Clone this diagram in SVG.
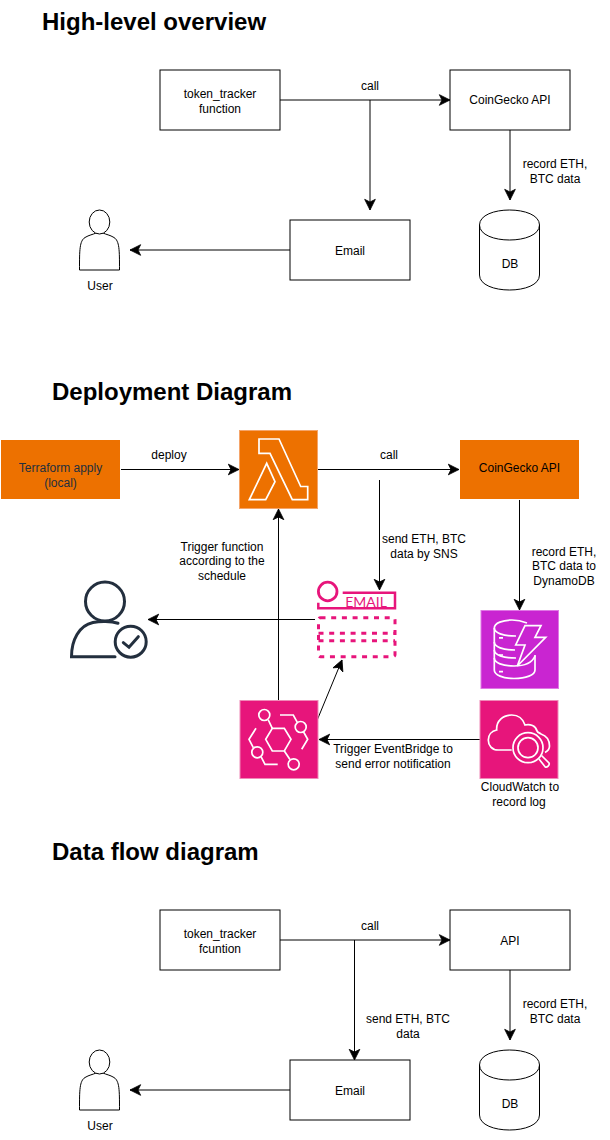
<svg xmlns="http://www.w3.org/2000/svg" width="610" height="1140" viewBox="0 0 610 1140">
<style>
text{font-family:"Liberation Sans",Arial,sans-serif;font-size:12px;fill:#000;text-anchor:middle}
.title{font-size:24px;font-weight:bold;text-anchor:start}
.box{fill:#fff;stroke:#000;stroke-width:1}
.orange{fill:#ed7100}
.edge{fill:none;stroke:#000;stroke-width:1;marker-end:url(#arrow)}
.plain{fill:none;stroke:#000;stroke-width:1}
.ic{fill:none;stroke:#fff;stroke-width:1.700;stroke-linejoin:miter}
.tile{stroke-width:1}
</style>
<defs>
<marker id="arrow" markerUnits="userSpaceOnUse" markerWidth="12" markerHeight="12" refX="8" refY="4.500" orient="auto" viewBox="0 0 9 9" overflow="visible">
<path d="M0,0.500 L8,4.500 L0,8.500 L2,4.500 Z" fill="#000" stroke="#000" stroke-width="0.600"/>
</marker>
<g id="userShape">
<path class="box" d="M79.500,270 C79.500,250 79.500,241 85,237.500 C89,235 93,234.500 96,233 H103 C106,234.500 110,235 114,237.500 C119.500,241 119.500,250 119.500,270 Z"/>
<ellipse class="box" cx="99.500" cy="222" rx="10.300" ry="12"/>
</g>
<g id="dbShape">
<path class="box" d="M479.500,225 C479.500,205 539.500,205 539.500,225 V275 C539.500,295 479.500,295 479.500,275 Z"/>
<path class="plain" d="M479.500,225 C479.500,245 539.500,245 539.500,225"/>
</g>
</defs>

<text class="title" x="42" y="30">High-level overview</text>
<text class="title" x="52" y="400">Deployment Diagram</text>
<text class="title" x="52" y="860">Data flow diagram</text>

<g id="connectors">
<path class="edge" d="M280,100 H450"/>
<path class="edge" d="M370,100 V210"/>
<path class="edge" d="M510,130 V200"/>
<path class="edge" d="M290,250 H130"/>
<text x="370" y="90">call</text>
<text x="555" y="168">record ETH,</text>
<text x="555" y="183">BTC data</text>

<path class="edge" d="M121,469.500 H239"/>
<path class="edge" d="M318,469.500 H459"/>
<path class="edge" d="M379.500,480 V590"/>
<path class="edge" d="M519.500,500 V610"/>
<path class="edge" d="M480,739.500 H319"/>
<path class="edge" d="M278.500,700 V509"/>
<path class="edge" d="M315,619.500 H148"/>
<path class="edge" d="M317,720.500 L342,660"/>
<text x="169" y="459">deploy</text>
<text x="389" y="459">call</text>
<text x="222" y="551">Trigger function</text>
<text x="222" y="565">according to the</text>
<text x="222" y="580">schedule</text>
<text x="424" y="543">send ETH, BTC</text>
<text x="424" y="558">data by SNS</text>
<text x="564" y="556">record ETH,</text>
<text x="564" y="570">BTC data to</text>
<text x="564" y="585">DynamoDB</text>
<text x="393" y="753">Trigger EventBridge to</text>
<text x="393" y="768">send error notification</text>

<path class="edge" d="M280,940 H450"/>
<path class="edge" d="M354.500,940 V1060"/>
<path class="edge" d="M510,970 V1040"/>
<path class="edge" d="M290,1090 H130"/>
<text x="370" y="930">call</text>
<text x="408" y="1023">send ETH, BTC</text>
<text x="408" y="1038">data</text>
<text x="555" y="1008">record ETH,</text>
<text x="555" y="1023">BTC data</text>
</g>

<g id="token-tracker-1"><rect class="box" x="160" y="70" width="120" height="60"/><text x="220" y="98">token_tracker</text><text x="220" y="113">function</text></g>
<g id="coingecko-1"><rect class="box" x="450" y="70" width="120" height="60"/><text x="510" y="104">CoinGecko API</text></g>
<g id="email-1"><rect class="box" x="290" y="220" width="120" height="60"/><text x="350" y="255">Email</text></g>
<g id="db-1"><use href="#dbShape"/><text x="510" y="268">DB</text></g>
<g id="user-1"><use href="#userShape"/><text x="100" y="290">User</text></g>

<g id="terraform"><rect class="orange" x="1" y="440" width="119" height="59"/><text x="60.500" y="472" style="fill:#232f3e">Terraform apply</text><text x="60.500" y="487" style="fill:#232f3e">(local)</text></g>
<g id="lambda"><rect class="orange tile" x="239.500" y="430.500" width="78" height="78" stroke="#f5a56a"/>
<path class="ic" d="M259,439 H279 L300.700,486.500 H307.700 V499.700 H292.300 L270,453.300 H259 Z"/>
<path class="ic" d="M249.300,499.700 L266.700,463.300 L275,481.700 L265.700,499.700 Z"/></g>
<g id="coingecko-2"><rect class="orange" x="460" y="440" width="119" height="59"/><text x="519.500" y="472">CoinGecko API</text></g>
<g id="sns-email" fill="none" stroke="#e7157b">
<circle cx="327.700" cy="591.500" r="9.300" stroke-width="2.800"/>
<path stroke-width="2.500" d="M342.700,592.800 H395 V608.300 H318.300 V602.700"/>
<text x="366" y="606.800" style="font-size:14px;fill:#e7157b;stroke:none;font-family:Lato,'Liberation Sans',sans-serif">EMAIL</text>
<rect x="318.500" y="617.700" width="76.500" height="39" rx="2" stroke-width="3" stroke-dasharray="5 5.700"/>
<path stroke-width="3" stroke-dasharray="5 5.700" d="M318.500,633.300 H395 M318.500,640.700 H395"/>
</g>
<g id="user-2" fill="none" stroke="#232f3e" stroke-width="3" stroke-linecap="round">
<circle cx="105" cy="601.500" r="19.500"/>
<path d="M118,623.300 C111,621 100,621 93,622.500 C79,625.500 71.500,640 71.500,656.700 H115"/>
<circle cx="130.700" cy="641.700" r="15.500"/>
<path d="M123.300,642.700 L129,647.300 L138.300,636.700"/>
</g>
<g id="dynamodb"><rect class="tile" x="481" y="610.500" width="77.500" height="78" fill="#c925d1" stroke="#e078e5"/>
<g class="ic">
<path d="M527,623 C522,621 517,620 512,620 C503,620 494.300,623 494.300,628 V670 C494.300,675 503,678.500 514,678.500 C526,678.500 535,675 535,670 V655"/>
<path d="M494.300,628 C494.300,633 503,636 516,636 M494.300,642 C494.300,647 503,650 515,650 M494.300,650 C494.300,655 503,658 516,658 M494.300,658 C494.300,663 503,666 514,666 C524,666 532,663 535,656"/>
<path d="M499,637.800 H503 M499,655 H503 M499,671.700 H503"/>
<path d="M525,625.700 H541 L535,637.300 H545.700 L517.300,666 L525,645 H515.700 Z" fill="#c925d1"/></g></g>
<g id="cloudwatch"><rect class="tile" x="480" y="700.500" width="78" height="78" fill="#e7157b" stroke="#f08ab8"/>
<g class="ic">
<path d="M511.700,750 H498.300 C492,750 488.300,745.500 488.300,740 C488.300,735 491.500,731 496.700,730 C496,721 503,715 511.700,715 C518,715 523,719 525,725 C530,723.500 536,726 537,731 C538,733 540,733 541,734 C547,736 549.500,741 549.500,746 C549.500,749 548,751 545,752.500"/>
<circle cx="528" cy="747.700" r="15"/><circle cx="528" cy="747.700" r="10"/>
<path d="M539,759 L545,766.700 C547,768 550,765 549,763 L541.500,755.500"/></g></g>
<g id="eventbridge"><rect class="tile" x="240" y="700.500" width="78" height="78" fill="#e7157b" stroke="#f08ab8"/>
<g class="ic"><path d="M272.300,728.300 H284.300 L291,739.300 L284.300,751 H272.300 L265.700,739.300 Z"/>
<circle cx="264.300" cy="715" r="5.500"/><circle cx="300.700" cy="727" r="5.500"/><circle cx="257.300" cy="752.300" r="5.500"/><circle cx="293.700" cy="764.300" r="5.500"/>
<path d="M268.300,720 L272.300,728.300 M280,715 H293.300 L297.300,722.300 M303.300,731.500 L307.700,739.300 L301.700,749.300 M256,728.300 L249,739.300 L253.300,747.700 M261,756.700 L265,764.300 H277.700 M284.300,751 L290,759.500"/></g></g>
<g id="cw-label"><text x="520" y="791">CloudWatch to</text><text x="519" y="806">record log</text></g>

<g id="token-tracker-3"><rect class="box" x="160" y="910" width="120" height="60"/><text x="220" y="938">token_tracker</text><text x="220" y="953">fcuntion</text></g>
<g id="api-3"><rect class="box" x="450" y="910" width="120" height="60"/><text x="510" y="945">API</text></g>
<g id="email-3"><rect class="box" x="290" y="1060" width="120" height="60"/><text x="350" y="1095">Email</text></g>
<g id="db-3"><use href="#dbShape" y="840"/><text x="510" y="1108">DB</text></g>
<g id="user-3"><use href="#userShape" y="840"/><text x="100" y="1130">User</text></g>
</svg>
